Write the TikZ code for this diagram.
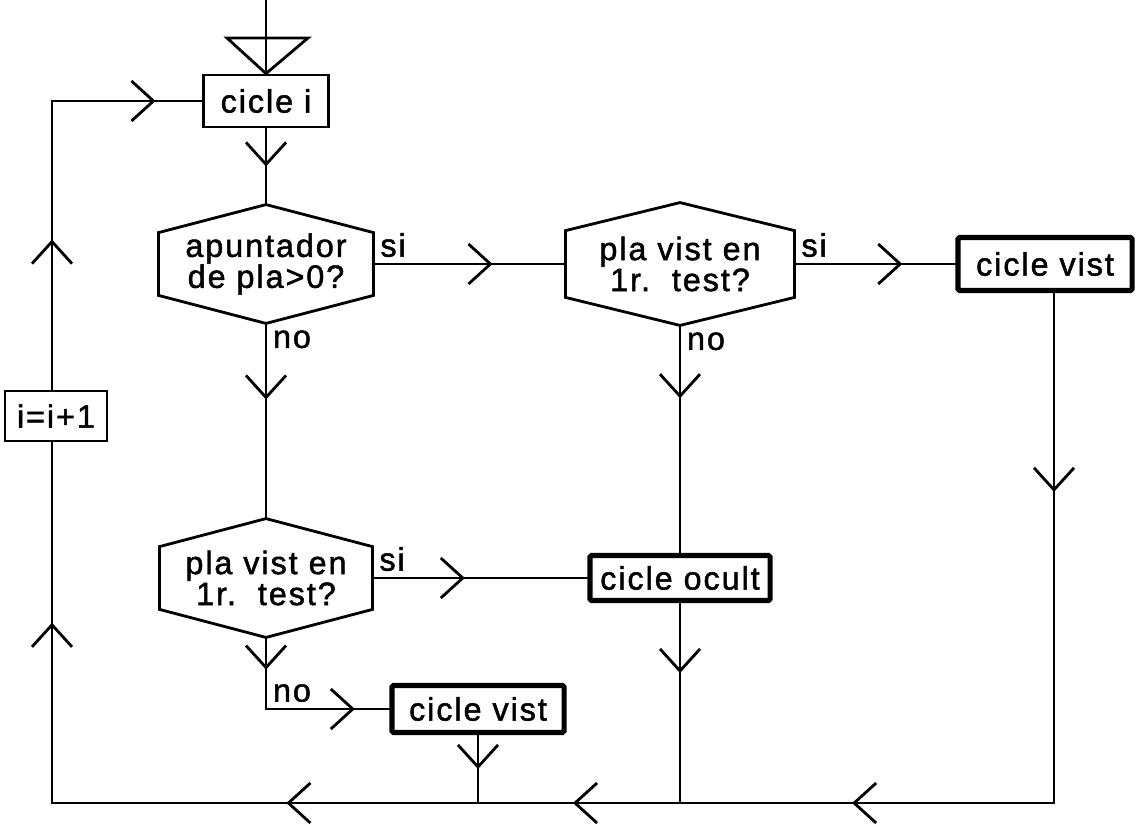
\documentclass[tikz,border=0pt]{standalone}
\usepackage{fontspec}
\setmainfont{Liberation Sans}[LetterSpace=6, FakeBold=1.5]
\usetikzlibrary{arrows.meta,decorations.markings}

\begin{document}
\begin{tikzpicture}[x=0.025cm, y=-0.025cm,
    line width=2pt, line cap=rect,
    font=\fontsize{23}{22}\selectfont,
    sbox/.style={draw, inner sep=0pt, align=center},
    fbox/.style={sbox, line width=3.6pt, rounded corners=1pt},
    hexa/.style={inner sep=0pt, align=center},
    midarrow/.style={postaction={decorate, decoration={markings,
        mark=at position #1 with {\arrow{Straight Barb[length=5.5mm, width=10mm]}}}}},
    lbl/.style={inner sep=4pt},
  ]
  \useasboundingbox (0,0) rectangle (1142,824);

  \node[sbox, minimum width=3.125cm, minimum height=1.3cm] (ci) at (266,101) {cicle i};
  \node[hexa, minimum width=5.3cm, minimum height=2.9cm] (hA) at (266,264) {apuntador\\de pla>0?};
  \node[hexa, minimum width=5.65cm, minimum height=3.0cm] (hB) at (680,264) {pla vist en\\1r.~~test?};
  \node[fbox, minimum width=4.35cm, minimum height=1.325cm] (vistA) at (1045,264) {cicle vist};
  \node[hexa, minimum width=5.25cm, minimum height=2.9cm] (hC) at (266,578) {pla vist en\\1r.~~test?};
  \node[fbox, minimum width=4.5cm, minimum height=1.125cm] (ocult) at (680,578) {cicle ocult};
  \node[fbox, minimum width=4.3cm, minimum height=1.175cm] (vistB) at (478,709) {cicle vist};
  \node[sbox, minimum width=2.55cm, minimum height=1.25cm] (inc) at (56,416) {i=i+1};

  % hexagon outlines
  \foreach \h in {hA,hB,hC}
    \draw[line join=miter] (\h.north) -- ([yshift=-0.7cm]\h.north east)
      -- ([yshift=0.7cm]\h.south east) -- (\h.south)
      -- ([yshift=0.7cm]\h.south west) -- ([yshift=-0.7cm]\h.north west) -- cycle;

  \coordinate (top) at (266,0);
  \coordinate (fL) at (227,38);
  \coordinate (fR) at (308,38);
  \coordinate (cR) at (1054,803);
  \coordinate (jO) at (680,803);
  \coordinate (jV) at (478,803);
  \coordinate (cL) at (52,803);
  \coordinate (cT) at (52,101);
  \coordinate (cN) at (hC.south |- vistB.west);

  % entry
  \draw (top) -- (ci.north);
  \draw[line join=miter] (ci.north) -- (fL) -- (fR) -- cycle;

  \draw[midarrow=0.5] (ci.south) -- (hA.north);
  \draw[midarrow=0.62] (hA.east) -- node[lbl, pos=0, above right] {si} (hB.west);
  \draw[midarrow=0.67] (hB.east) -- node[lbl, pos=0, above right] {si} (vistA.west);
  \draw[midarrow=0.39] (hA.south) -- node[lbl, pos=0, below right] {no} (hC.north);
  \draw[midarrow=0.32] (hB.south) -- node[lbl, pos=0, below right] {no} (ocult.north);
  \draw[midarrow=0.43] (hC.east) -- node[lbl, pos=0, above right] {si} (ocult.west);
  \draw[midarrow=0.45] (hC.south) -- (cN);
  \draw[midarrow=0.72] (cN) -- node[lbl, pos=0, above right] {no} (vistB.west);

  \draw[midarrow=0.5] (vistB.south) -- (jV);
  \draw[midarrow=0.35] (ocult.south) -- (jO);
  \draw[midarrow=0.39] (vistA.south -| cR) -- (cR);

  % return line
  \draw[midarrow=0.54] (cR) -- (jO);
  \draw[midarrow=0.53] (jO) -- (jV);
  \draw[midarrow=0.45] (jV) -- (cL);
  \draw[midarrow=0.5] (cL) -- (cL |- inc.south);
  \draw[midarrow=0.52] (cL |- inc.north) -- (cT);
  \draw[midarrow=0.69] (cT) -- (ci.west);
\end{tikzpicture}
\end{document}
